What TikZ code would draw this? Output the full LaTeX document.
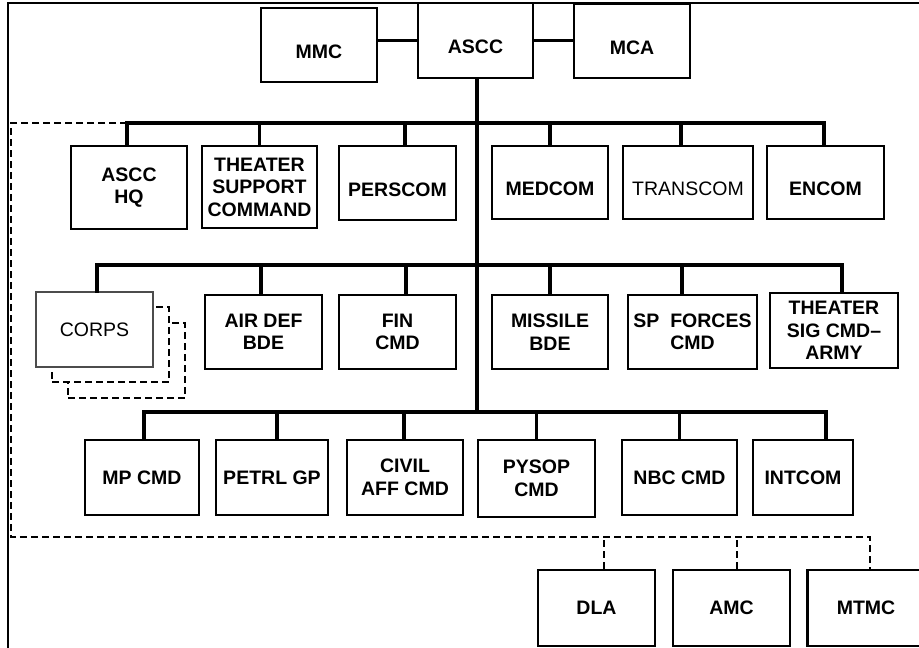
\documentclass[tikz,border=0pt]{standalone}
\usepackage{fontspec}
\setmainfont{Liberation Sans}
\newcommand{\unitfont}{\fontsize{19.5}{22.5}\selectfont}

\begin{document}
\begin{tikzpicture}[
    x=1pt, y=-1pt,
    every node/.style={align=center, font=\unitfont\bfseries},
    unit/.style={draw, line width=2.2pt, fill=white, inner sep=2pt,
        minimum width=116pt, minimum height=74pt},
    lowtext/.style={text height=27pt},
    plain/.style={font=\unitfont},
    ghost/.style={draw, line width=1.8pt, dash pattern=on 7pt off 4pt, fill=white,
        minimum width=117pt, minimum height=75pt},
    bus/.style={line width=3.6pt, line cap=rect},
    tie/.style={line width=1.8pt, dash pattern=on 7pt off 4pt}
]
\useasboundingbox (0,0) rectangle (919,648);

% frame
\draw[line width=2.8pt] (8,648) -- (8,3) -- (919,3);

% top level
\node[unit, minimum width=115pt, minimum height=75pt, lowtext] (ascc) at (475.5,40.5) {ASCC};
\node[unit, lowtext] (mmc) at (319,45) {MMC};
\node[unit, lowtext] (mca) at (632,41) {MCA};

\coordinate (bus1) at (477,123);
\coordinate (bus2) at (477,265);
\coordinate (bus3) at (477,412);
\coordinate (rim) at (11,537);

% first row
\node[unit, minimum height=83pt] (hq) at (129,187.5) {ASCC\\HQ};
\node[unit, minimum width=115pt, minimum height=82pt] (tsc) at (259.5,187) {THEATER\\SUPPORT\\COMMAND};
\node[unit, minimum width=117pt, lowtext] (perscom) at (397.5,183) {PERSCOM};
\node[unit, minimum height=73pt, lowtext] (medcom) at (550,182.5) {MEDCOM};
\node[unit, plain, minimum width=130pt, minimum height=73pt, lowtext] (transcom) at (688,182.5) {TRANSCOM};
\node[unit, minimum width=117pt, minimum height=73pt, lowtext] (encom) at (825.5,182.5) {ENCOM};

% second row
\node[ghost] (corpsb) at (126.5,360.5) {};
\node[ghost] (corpsa) at (110.5,344.5) {};
\node[unit, plain, draw=black!70, line width=1.4pt, minimum width=117pt, minimum height=75pt] (corps) at (94.5,329.5) {CORPS};
\node[unit, minimum width=117pt] (airdef) at (263.5,332) {AIR DEF\\BDE};
\node[unit, minimum width=117pt] (fin) at (397.5,332) {FIN\\CMD};
\node[unit] (missile) at (550,332) {MISSILE\\BDE};
\node[unit, minimum width=129pt] (spforces) at (692.5,332) {SP~~FORCES\\CMD};
\node[unit, minimum width=128pt, minimum height=75pt] (sig) at (834,330.5) {THEATER\\SIG CMD\textendash\\ARMY};

% third row
\node[unit, minimum width=114pt, minimum height=75pt] (mp) at (142,477.5) {MP CMD};
\node[unit, minimum width=112pt, minimum height=75pt] (petrl) at (272,477.5) {PETRL GP};
\node[unit, minimum height=75pt] (civil) at (405,477.5) {CIVIL\\AFF CMD};
\node[unit, minimum width=117pt, minimum height=77pt] (pysop) at (536.5,478.5) {PYSOP\\CMD};
\node[unit, minimum width=115pt, minimum height=75pt] (nbc) at (679.5,477.5) {NBC CMD};
\node[unit, minimum width=100pt, minimum height=75pt] (intcom) at (803,477.5) {INTCOM};

% outside agencies
\node[unit, minimum width=117pt, minimum height=76pt] (dla) at (596.5,608) {DLA};
\node[unit, minimum width=117pt, minimum height=76pt] (amc) at (731.5,608) {AMC};
\node[unit, minimum width=117pt, minimum height=76pt] (mtmc) at (866,608) {MTMC};

% connectors
\draw[bus] (ascc.west) -- (ascc.west -| mmc.east);
\draw[bus] (ascc.east) -- (ascc.east -| mca.west);
\draw[bus] ([xshift=1.5pt]ascc.south) -- ([xshift=1.5pt]ascc.south |- bus3);

\draw[bus] ([xshift=-2pt]hq.north) |- (bus1) -| ([xshift=-1.5pt]encom.north);
\foreach \u/\s in {tsc/0, perscom/7.5, medcom/0, transcom/-7}
    \draw[bus] ([xshift=\s pt]\u.north) -- ([xshift=\s pt]\u.north |- bus1);

\draw[bus] ([xshift=2.5pt]corps.north) |- (bus2) -| ([xshift=8pt]sig.north);
\foreach \u/\s in {airdef/-2.5, fin/8.5, missile/0, spforces/-10.5}
    \draw[bus] ([xshift=\s pt]\u.north) -- ([xshift=\s pt]\u.north |- bus2);

\draw[bus] ([xshift=2pt]mp.north) |- (bus3) -| ([xshift=23pt]intcom.north);
\foreach \u/\s in {petrl/5, civil/-1, pysop/0, nbc/0}
    \draw[bus] ([xshift=\s pt]\u.north) -- ([xshift=\s pt]\u.north |- bus3);

% dashed ties
\draw[tie] ([xshift=-2pt]hq.north |- bus1) -| (rim) -| ([xshift=4pt]mtmc.north);
\foreach \u/\s in {dla/7.5, amc/5.5}
    \draw[tie] ([xshift=\s pt]\u.north) -- ([xshift=\s pt]\u.north |- rim);
\end{tikzpicture}
\end{document}
